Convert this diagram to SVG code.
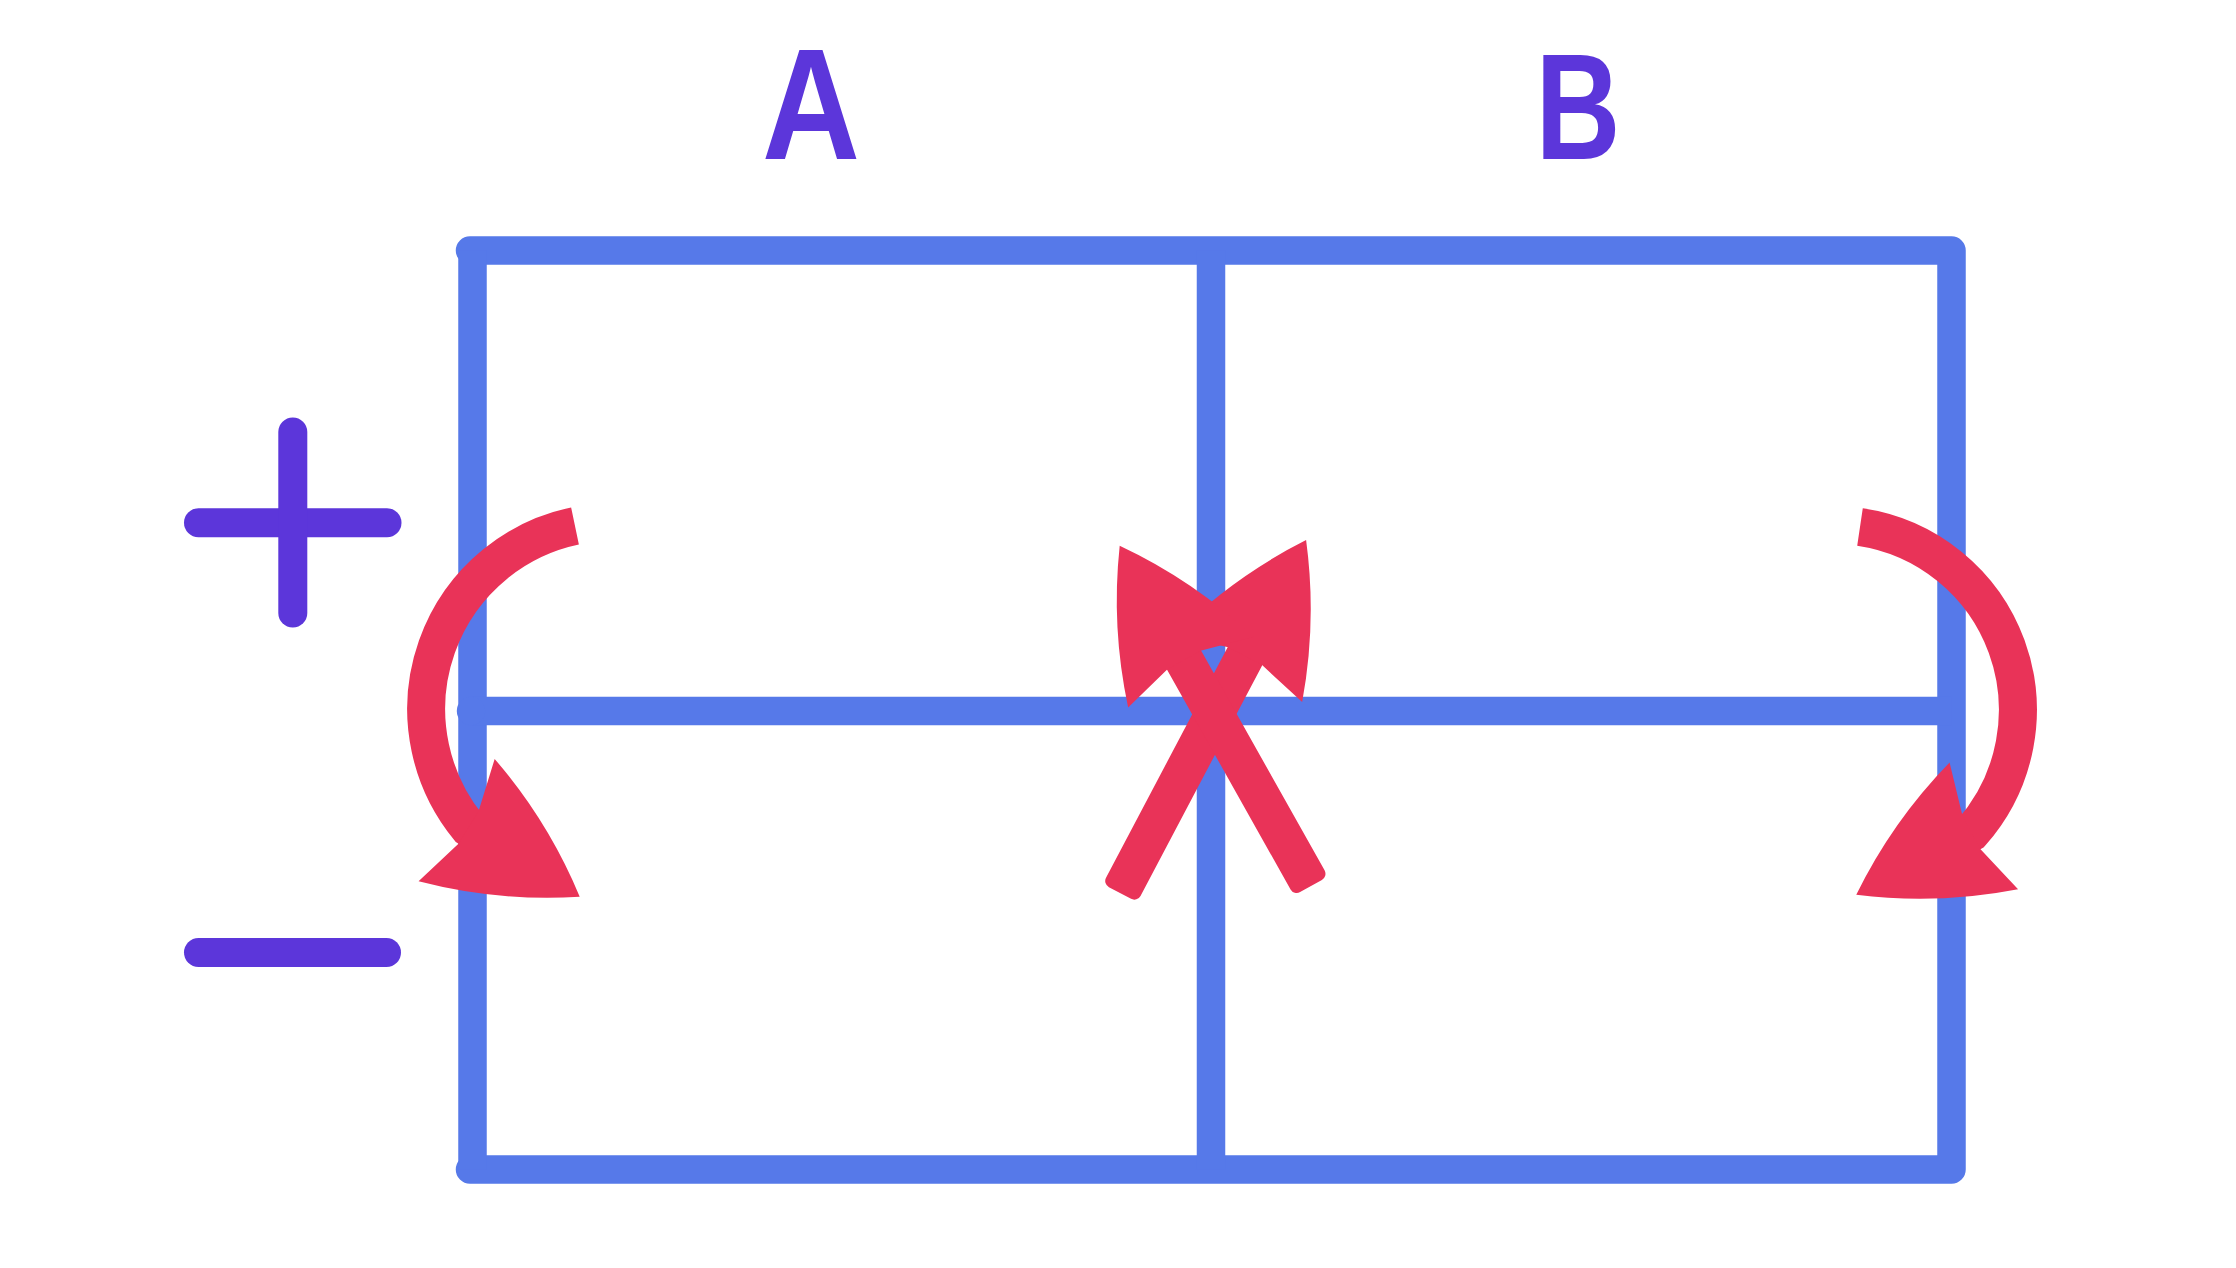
<svg xmlns="http://www.w3.org/2000/svg" xmlns:xlink="http://www.w3.org/1999/xlink" width="2236" height="1268" viewBox="0 0 2236 1268">
  <style>
    .grid { fill: none; stroke: #5679E9; stroke-width: 28.5; }
    .sign { fill: none; stroke: #5C36DA; stroke-width: 29; stroke-linecap: round; }
    .label { fill: #5C36DA; font-family: "Liberation Sans", Arial, sans-serif; font-weight: bold; font-size: 150px; text-anchor: middle; }
    .label-a { font-size: 157px; }
    .shaft { fill: none; stroke: #E93358; stroke-width: 38; stroke-linecap: butt; }
    .red { fill: #E93358; }
  </style>
  <defs>
    <path id="head" class="red" d="M 0,-19 L -14,-72 Q 64.3,-47.6 131,0 Q 64.3,47.6 -14,72 L 0,19 Z"/>
  </defs>
  <rect width="2236" height="1268" fill="#FFFFFF"/>

  <g id="grid">
    <path class="grid" d="M 470,250.5 L 1951.5,250.5 L 1951.5,1169.5 L 470,1169.5" stroke-linejoin="round" stroke-linecap="round"/>
    <line class="grid" x1="472.5" y1="250.5" x2="472.5" y2="1169.5"/>
    <line class="grid" x1="1211" y1="250.5" x2="1211" y2="1169.5"/>
    <line class="grid" x1="472.5" y1="711" x2="1951.5" y2="711"/>
    <circle cx="471" cy="711" r="14.2" fill="#5679E9"/>
  </g>

  <g id="label-A">
    <text class="label label-a" x="811" y="159" textLength="98" lengthAdjust="spacingAndGlyphs">A</text>
  </g>
  <g id="label-B">
    <text class="label" x="1578" y="159" textLength="85" lengthAdjust="spacingAndGlyphs">B</text>
  </g>

  <g id="plus">
    <line class="sign" x1="198.5" y1="522.8" x2="387" y2="522.8"/>
    <line class="sign" x1="292.8" y1="432" x2="292.8" y2="613"/>
  </g>
  <g id="minus">
    <line class="sign" x1="198.5" y1="952.5" x2="386.5" y2="952.5"/>
  </g>

  <g id="arrows">
    <g id="arrow-left">
      <path class="shaft" d="M 575,526 A 187 187 0 0 0 468.5,827.5 L 477,832.8"/>
      <use xlink:href="#head" href="#head" transform="translate(468.5,827.5) rotate(31.9)"/>
    </g>
    <g id="arrow-right">
      <path class="shaft" d="M 1860,527 A 185 185 0 0 1 1971.5,832.5 L 1962.7,837.3"/>
      <use xlink:href="#head" href="#head" transform="translate(1971.5,832.5) rotate(151.6)"/>
    </g>
    <g id="arrow-cross-1">
      <rect class="red" x="0" y="-19.5" width="278" height="39" rx="7" transform="translate(1120,893) rotate(-62.18)"/>
      <use xlink:href="#head" href="#head" transform="translate(1245,656) rotate(-62.2)"/>
    </g>
    <g id="arrow-cross-2">
      <rect class="red" x="0" y="-19.5" width="269" height="39" rx="7" transform="translate(1311,886) rotate(-119.33)"/>
      <use xlink:href="#head" href="#head" transform="translate(1184,660) rotate(-119.4)"/>
    </g>
  </g>
</svg>
